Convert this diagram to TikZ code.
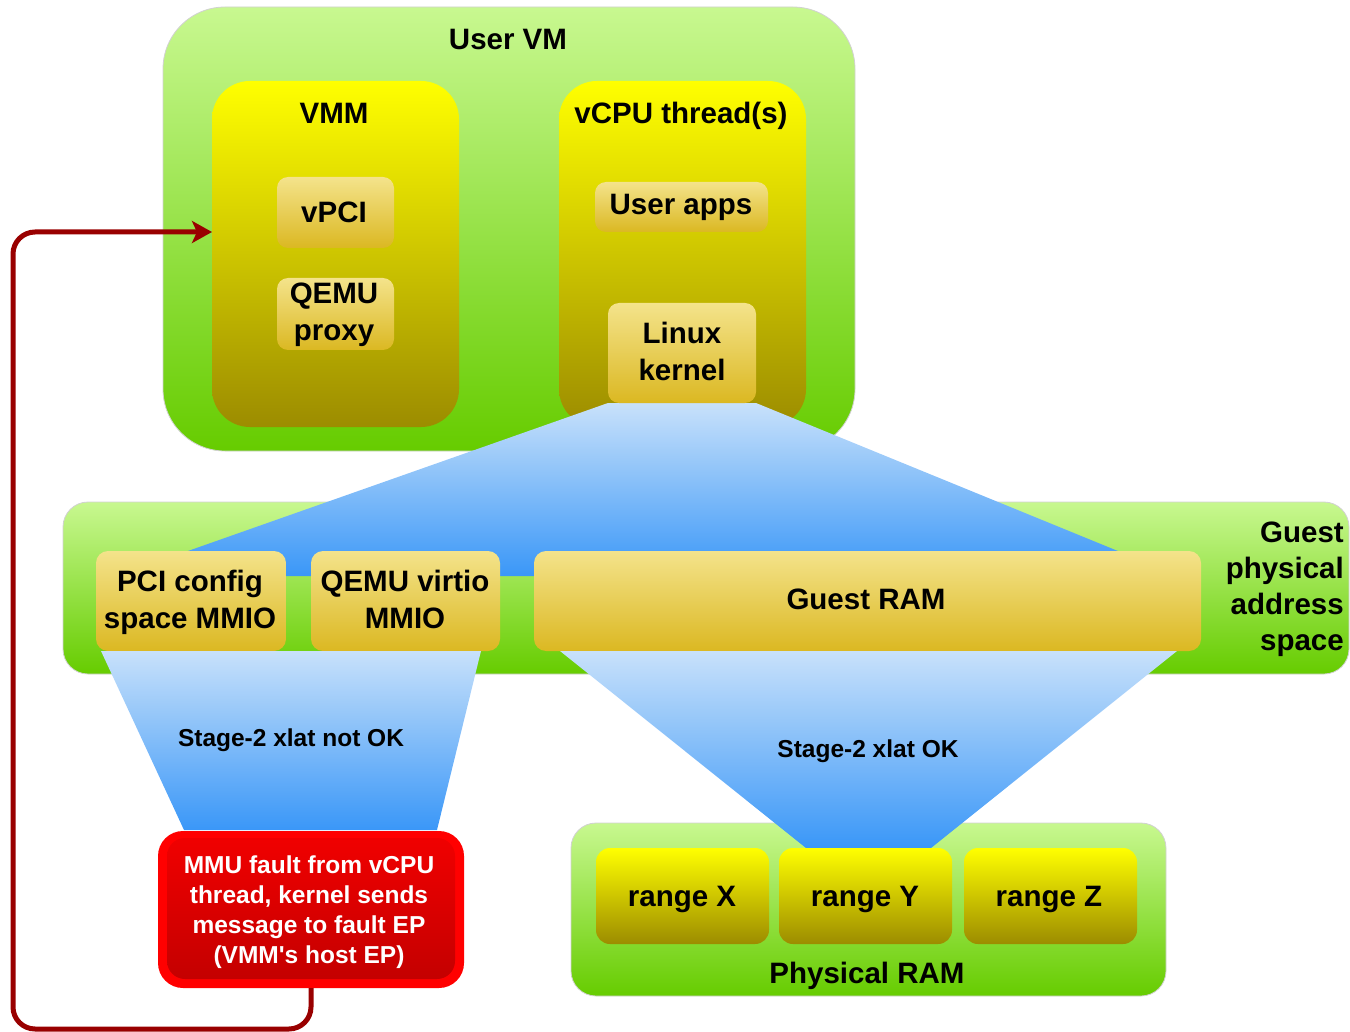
\documentclass[tikz,border=0pt]{standalone}
\usepackage{fontspec}
\setmainfont{Liberation Sans}
\usetikzlibrary{arrows.meta}

\definecolor{grnTop}{HTML}{C8F890}
\definecolor{grnBot}{HTML}{66CC00}
\definecolor{ylwTop}{HTML}{FFFF00}
\definecolor{ylwBot}{HTML}{9C8C00}
\definecolor{gldTop}{HTML}{F4E38B}
\definecolor{gldBot}{HTML}{DBB822}
\definecolor{bluTop}{HTML}{C8E1FA}
\definecolor{bluBot}{HTML}{3A97F8}
\definecolor{redRim}{HTML}{FF0000}
\definecolor{redTop}{HTML}{F00000}
\definecolor{redBot}{HTML}{C40000}
\definecolor{loopred}{HTML}{990000}

\begin{document}
\begin{tikzpicture}[x=1pt,y=-1pt,
  box/.style={inner sep=0pt, outer sep=0pt},
  greenbox/.style={box, top color=grnTop, bottom color=grnBot, draw=black!18, line width=0.8pt},
  yellowbox/.style={box, top color=ylwTop, bottom color=ylwBot, rounded corners=38pt},
  goldbox/.style={box, top color=gldTop, bottom color=gldBot, rounded corners=11pt},
  rangebox/.style={box, top color=ylwTop, bottom color=ylwBot, rounded corners=14pt},
  xlat/.style={top color=bluTop, bottom color=bluBot},
  big/.style={font=\fontsize{29.5}{37}\selectfont\bfseries},
  small/.style={font=\fontsize{24.5}{30}\selectfont\bfseries},
  lbl/.style={inner sep=0pt, anchor=base, align=center},
  loop arrow/.style={draw=loopred, line width=5pt, rounded corners=22pt,
    -{Stealth[length=20pt,width=22pt,inset=5pt]}},
]
\useasboundingbox (0,0) rectangle (1350,1032);

% ---- user VM and its two halves
\node[greenbox, rounded corners=62pt, minimum width=692pt, minimum height=444pt] (uservm) at (509,229) {};
\node[yellowbox, minimum width=247pt, minimum height=346pt] (vmm) at (335.5,254) {};
\node[yellowbox, minimum width=247pt, minimum height=346pt] (vcpu) at (682.5,254) {};
\node[goldbox, minimum width=117pt, minimum height=71pt] (vpci) at (335.5,212.5) {};
\node[goldbox, minimum width=117pt, minimum height=72pt] (qproxy) at (335.5,314) {};
\node[goldbox, minimum width=173pt, minimum height=50pt] (uapps) at (681.5,207) {};

% ---- guest physical address space
\node[greenbox, rounded corners=25pt, minimum width=1286pt, minimum height=172pt] (gpas) at (706,588) {};

% kernel view onto the guest physical address space
\shade[xlat] (608,403) -- (756,403) -- (1179,576) -- (117,576) -- cycle;
\node[goldbox, minimum width=148pt, minimum height=100pt] (kernel) at (682,353) {};

\node[goldbox, rounded corners=12pt, minimum width=190pt, minimum height=100pt] (pcicfg) at (191,601) {};
\node[goldbox, rounded corners=12pt, minimum width=189pt, minimum height=100pt] (virtio) at (405.5,601) {};
\node[goldbox, rounded corners=12pt, minimum width=667pt, minimum height=100pt] (gram) at (867.5,601) {};

% ---- physical RAM
\node[greenbox, rounded corners=25pt, minimum width=595pt, minimum height=173pt] (pram) at (868.5,909.5) {};

% stage-2 translations
\shade[xlat] (101,651) -- (481,651) -- (437,830) -- (184,830) -- cycle;
\shade[xlat] (560,651) -- (1177,651) -- (931,848) -- (806,848) -- cycle;

\node[rangebox, minimum width=173pt, minimum height=96pt] (rx) at (682.5,896) {};
\node[rangebox, minimum width=173pt, minimum height=96pt] (ry) at (865.5,896) {};
\node[rangebox, minimum width=173pt, minimum height=96pt] (rz) at (1050.5,896) {};

% ---- fault box
\node[box, fill=redRim, rounded corners=25pt, minimum width=306pt, minimum height=157pt] (fault) at (311,909.5) {};
\shade[top color=redTop, bottom color=redBot, rounded corners=18pt] (167,838) rectangle (455,979);

% ---- fault delivery back to the VMM
\draw[loop arrow] (fault.south) -- (fault.south |- 0,1029) -- (13,1029) -- (13,232) -- (vmm.west |- 0,232);

% ---- labels (base anchor = baseline of the last line)
\node[lbl,big] (uservmT) at (508,50) {User VM};
\node[lbl,big] (vmmT) at (334,124) {VMM};
\node[lbl,big] (vcpuT) at (681,124) {vCPU thread(s)};
\node[lbl,big] (vpciT) at (334,223) {vPCI};
\node[lbl,big] (qproxyT) at (334,341) {QEMU\\proxy};
\node[lbl,big] (uappsT) at (681,215) {User apps};
\node[lbl,big] (kernelT) at (682,381) {Linux\\kernel};
\node[lbl,big] (pcicfgT) at (190,628) {PCI config\\space MMIO};
\node[lbl,big] (virtioT) at (405,628) {QEMU virtio\\MMIO};
\node[lbl,big] (gramT) at (866,609) {Guest RAM};
\node[inner sep=0pt, anchor=base east, align=right, font=\fontsize{29.5}{35.7}\selectfont\bfseries] (gpasT) at (1344,650) {Guest\\physical\\address\\space};
\node[lbl,small] (notokT) at (291,746) {Stage-2 xlat not OK};
\node[lbl,small] (okT) at (868,757) {Stage-2 xlat OK};
\node[lbl,small,text=white] (faultT) at (309,963) {MMU fault from vCPU\\thread, kernel sends\\message to fault EP\\(VMM\textquotesingle s host EP)};
\node[lbl,big] (rxT) at (682,906) {range X};
\node[lbl,big] (ryT) at (865,906) {range Y};
\node[lbl,big] (rzT) at (1049,906) {range Z};
\node[lbl,big] (pramT) at (867,983) {Physical RAM};
\end{tikzpicture}
\end{document}
